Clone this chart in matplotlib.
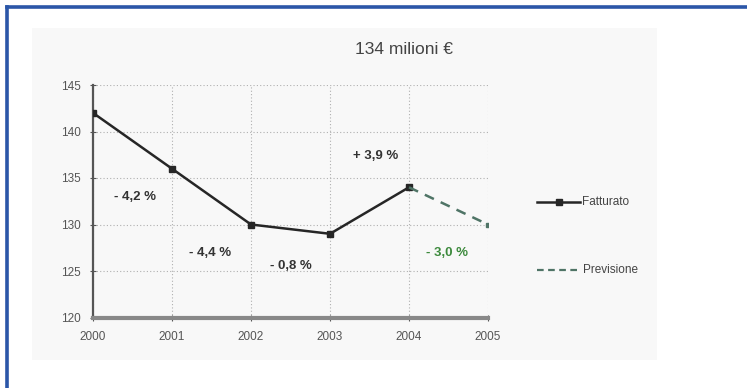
import matplotlib.pyplot as plt
from matplotlib.patches import Rectangle
from matplotlib.lines import Line2D

plt.rcParams['font.family'] = ['Liberation Sans', 'DejaVu Sans']

# Dati
anni = [2000, 2001, 2002, 2003, 2004, 2005]
fatturato = [142, 136, 130, 129, 134]
previsione_anni = [2004, 2005]
previsione = [134, 130]
variazioni = ['- 4,2 %', '- 4,4 %', '- 0,8 %', '+ 3,9 %', '- 3,0 %']
var_x = [2000.26, 2001.21, 2002.24, 2003.29, 2004.22]
var_y = [132.95, 126.95, 125.5, 137.35, 126.95]
y_ticks = [120, 125, 130, 135, 140, 145]

W, H = 747, 388
fig = plt.figure(figsize=(W / 100, H / 100), dpi=100)
fig.patch.set_facecolor('white')

# pannello grigio chiaro di sfondo
fig.add_artist(Rectangle((32 / W, 1 - 360 / H), (657 - 32) / W, (360 - 28) / H,
                         transform=fig.transFigure, facecolor='#f8f8f8',
                         edgecolor='none', zorder=-5))
# bordo blu (sinistra e alto)
fig.add_artist(Line2D([6.5 / W, 6.5 / W], [0, 1 - 6.5 / H], transform=fig.transFigure,
                      color='#2b56a8', lw=2.6))
fig.add_artist(Line2D([6.5 / W, 1], [1 - 6.5 / H, 1 - 6.5 / H], transform=fig.transFigure,
                      color='#2b56a8', lw=2.6))

ax = fig.add_axes([93 / W, 1 - 317.5 / H, (488 - 93) / W, (317.5 - 85) / H])
ax.set_facecolor('none')
ax.set_zorder(2)

ax.plot(anni[:5], fatturato, color='#262626', lw=1.8, marker='s', ms=4.5, zorder=3)
ax.plot(previsione_anni, previsione, color='#4f7466', lw=1.8, ls=(0, (4, 3)), zorder=3)
ax.plot([2005], [130], color='#4f7466', marker='s', ms=2.5, zorder=3)

for t, x, y in zip(variazioni, var_x, var_y):
    col = '#3d8a3d' if t == '- 3,0 %' else '#333333'
    ax.text(x, y, t, fontsize=9.5, color=col, ha='left', va='center', fontweight='bold')

ax.set_xlim(2000, 2005)
ax.set_ylim(120, 145)
ax.set_xticks(anni)
ax.set_yticks(y_ticks)
ax.tick_params(labelsize=8.5, colors='#555555', length=4, direction='inout')
ax.tick_params(axis='x', pad=8)
ax.tick_params(axis='y', pad=7)
ax.grid(True, color='#b0b0b0', ls=(0, (1, 2)), lw=0.8)

for s in ['top', 'right']:
    ax.spines[s].set_visible(False)
ax.spines['left'].set_color('#555555')
ax.spines['left'].set_linewidth(1.6)
ax.spines['bottom'].set_color('#888888')
ax.spines['bottom'].set_linewidth(3)

fig.text(404 / W, 1 - 50 / H, '134 milioni €', fontsize=12.5, color='#444444',
         ha='center', va='center')

# legenda
fig.add_artist(Line2D([537 / W, 559 / W, 580 / W], [1 - 202 / H] * 3, transform=fig.transFigure,
                      color='#262626', lw=1.8, marker='s', ms=4, markevery=[1]))
fig.text(582 / W, 1 - 202 / H, 'Fatturato', fontsize=8.5, color='#444444', va='center')
fig.add_artist(Line2D([537 / W, 578 / W], [1 - 270 / H, 1 - 270 / H], transform=fig.transFigure,
                      color='#4f7466', lw=1.6, ls=(0, (3, 2))))
fig.text(583 / W, 1 - 270 / H, 'Previsione', fontsize=8.5, color='#444444', va='center')

fig.savefig('out.png', dpi=100)
